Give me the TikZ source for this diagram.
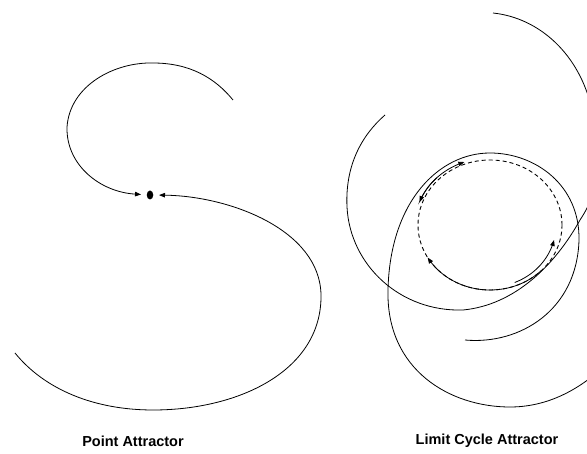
\documentclass[tikz,border=0pt]{standalone}
\usepackage{fontspec}
\setmainfont{Liberation Sans}
\usetikzlibrary{arrows.meta,shapes.geometric}
\tikzset{
  traj/.style={line width=0.8pt, black},
  tip/.style={-{Triangle[length=6pt,width=4.5pt]}},
  cyc/.style={line width=0.9pt, black, dash pattern=on 4pt off 3pt},
  lab/.style={font=\bfseries\fontsize{14.5}{16}\selectfont, inner sep=0pt}
}
\begin{document}
\begin{tikzpicture}[x=1pt,y=-1pt]
\useasboundingbox (0,0) rectangle (587,454);
\begin{scope}
\clip (0,0) rectangle (587,454);
% ---------- point attractor ----------
\node[ellipse, fill=black, inner sep=0pt, minimum width=6.5pt, minimum height=9pt] (dot) at (150,195) {};
\draw[traj, tip, shorten >=9pt] (233,100) .. controls (215,78) and (190,63) .. (153,63)
  .. controls (115,62) and (70,85) .. (67,127)
  .. controls (66,165) and (100,192) .. (dot.center);
\draw[traj, tip, shorten >=9pt] (15,353) .. controls (45,390) and (95,410) .. (153,410)
  .. controls (240,410) and (322,370) .. (321,295)
  .. controls (320,230) and (230,196) .. (dot.center);
% ---------- limit cycle attractor ----------
\draw[traj] (493,13) .. controls (540,18) and (580,55) .. (592,110)
  .. controls (603,160) and (600,190) .. (580,220)
  .. controls (555,265) and (515,305) .. (463,310)
  .. controls (400,312) and (350,265) .. (347,207)
  .. controls (345,165) and (362,135) .. (385,115);
\draw[traj] (465,340) .. controls (520,345) and (577,310) .. (579,240)
  .. controls (580,185) and (535,153) .. (490,153)
  .. controls (440,153) and (390,200) .. (388,290)
  .. controls (386,370) and (450,407) .. (510,407)
  .. controls (545,407) and (575,392) .. (600,370);
% limit cycle
\draw[cyc] (490,225) ellipse [x radius=72pt, y radius=65pt];
% converging trajectories
\draw[traj, tip] plot[smooth, domain=205:250, variable=\t] ({490+75*cos(\t)},{225+67*sin(\t)});
\draw[traj, tip] plot[smooth, domain=225:200, variable=\t] ({490+75*cos(\t)},{225+67*sin(\t)});
\draw[traj, tip] plot[smooth, domain=68:14, variable=\t] ({490+66*cos(\t)},{225+62*sin(\t)});
\draw[traj, tip] plot[smooth, domain=45:150, variable=\t] ({490+72*cos(\t)},{225+65*sin(\t)});
\end{scope}
% ---------- labels ----------
\node[lab] (pa) at (133,441) {Point Attractor};
\node[lab] (lca) at (487,441) {Limit Cycle Attractor};
\end{tikzpicture}
\end{document}
